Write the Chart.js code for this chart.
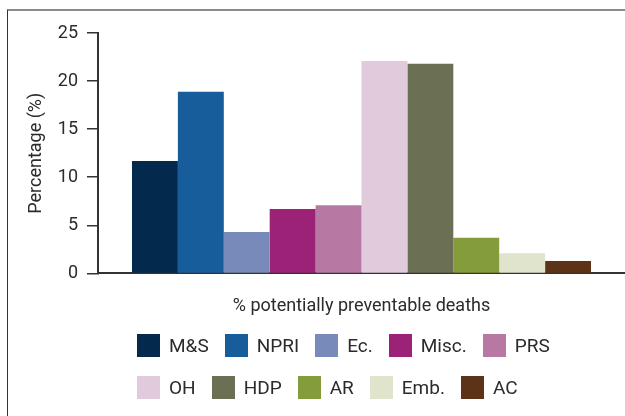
<!DOCTYPE html>
<html>
<head>
<meta charset="utf-8">
<script src="https://cdn.jsdelivr.net/npm/chart.js@4"></script>
<style>
  html, body { margin: 0; padding: 0; background: #fff; }
  body { width: 625px; height: 416px; position: relative; overflow: hidden; font-family: Roboto, sans-serif; color: #2b2b2b; }
  #moldura { position: absolute; left: 7px; top: 9px; right: 0; bottom: 0; border-top: 2px solid #8c8c8c; border-left: 1px solid #333; }
  #graficoMortes { position: absolute; left: 0; top: 0; }
  #legenda { position: absolute; left: 137px; top: 334px; }
  .linha { display: flex; gap: 16px; height: 23px; margin-bottom: 19px; }
  .item { display: flex; align-items: center; font-size: 19px; line-height: 23px; }
  .caixa { width: 23px; height: 23px; margin-right: 9px; }
</style>
</head>
<body>
<div id="moldura"></div>
<canvas id="graficoMortes" width="625" height="416"></canvas>
<div id="legenda"></div>
<script>
// Dados
const categorias = ["M&S", "NPRI", "Ec.", "Misc.", "PRS", "OH", "HDP", "AR", "Emb.", "AC"];
const valores = [11.7, 18.9, 4.3, 6.7, 7.1, 22.1, 21.8, 3.7, 2.1, 1.3];
const cores = ["#03294d", "#185d9b", "#778ab9", "#9b2277", "#b778a3", "#e1cadc", "#6b7055", "#849c3b", "#e0e4cd", "#5c3317"];
const porLinha = 5; // itens da legenda por linha

const corTexto = "#2b2b2b";
const fonte = "Roboto";

// Um dataset por barra, todas no mesmo grupo
const datasets = categorias.map((nome, i) => ({
  label: nome,
  data: [valores[i]],
  backgroundColor: cores[i],
  borderWidth: 0,
  barPercentage: 1,
  categoryPercentage: 0.871,
}));

const ctx = document.getElementById("graficoMortes").getContext("2d");

const config = {
  type: "bar",
  data: { labels: [""], datasets: datasets },
  options: {
    responsive: false,
    animation: false,
    layout: { padding: { left: 22, top: 33, right: 0, bottom: 99 } },
    plugins: {
      legend: { display: false },
      tooltip: { enabled: false },
    },
    scales: {
      x: {
        grid: { display: false },
        ticks: { display: false },
        border: { color: "#333", width: 2 },
        title: {
          display: true,
          text: "% potentially preventable deaths",
          color: corTexto,
          font: { family: fonte, size: 18 },
          padding: { top: 14, bottom: 0 },
        },
      },
      y: {
        min: 0,
        max: 25,
        ticks: { stepSize: 5, color: corTexto, font: { family: fonte, size: 18 }, padding: 9 },
        grid: { drawOnChartArea: false, tickLength: 11, color: "#333", lineWidth: 1.5 },
        border: { color: "#333", width: 2 },
        title: {
          display: true,
          text: "Percentage (%)",
          color: corTexto,
          font: { family: fonte, size: 18 },
          padding: 4,
        },
        afterFit: (escala) => { escala.width = 76; },
      },
    },
  },
};

const chart = new Chart(ctx, config);

// Legenda em HTML, duas linhas de cinco
const legenda = document.getElementById("legenda");
for (let i = 0; i < categorias.length; i += porLinha) {
  const linha = document.createElement("div");
  linha.className = "linha";
  categorias.slice(i, i + porLinha).forEach((nome, j) => {
    const item = document.createElement("div");
    item.className = "item";
    const caixa = document.createElement("span");
    caixa.className = "caixa";
    caixa.style.background = cores[i + j];
    const texto = document.createElement("span");
    texto.textContent = nome;
    item.appendChild(caixa);
    item.appendChild(texto);
    linha.appendChild(item);
  });
  legenda.appendChild(linha);
}
</script>
</body>
</html>
